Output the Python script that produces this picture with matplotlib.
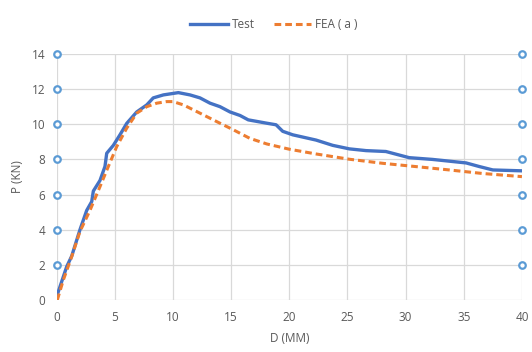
import matplotlib
matplotlib.use("Agg")
from matplotlib import pyplot as plt

plt.rcParams['font.family'] = ['Open Sans', 'DejaVu Sans']

test_d = [0.05, 0.86, 1.29, 2.0, 2.58, 3.01, 3.15, 3.72, 4.15, 4.3, 4.87, 5.44, 6.02,
          6.88, 7.74, 8.3, 9.17, 10.46, 11.46, 12.32, 13.18, 14.04, 14.9, 15.76, 16.47,
          18.06, 18.86, 19.43, 20.29, 22.3, 23.73, 25.16, 26.6, 28.3, 30.3, 32.3, 35.2,
          36.3, 37.5, 40.0]
test_p = [0.3, 1.9, 2.5, 4.0, 5.1, 5.6, 6.2, 6.8, 7.6, 8.35, 8.8, 9.4, 10.05,
          10.7, 11.1, 11.5, 11.67, 11.8, 11.67, 11.5, 11.2, 11.0, 10.7, 10.5, 10.25,
          10.06, 9.97, 9.6, 9.4, 9.1, 8.8, 8.6, 8.5, 8.45, 8.1, 8.0, 7.8,
          7.6, 7.4, 7.35]

fea_d = [0.05, 0.57, 1.29, 2.0, 2.86, 3.72, 4.44, 5.16, 6.02, 6.88, 7.74, 8.6, 9.46,
         10.0, 10.9, 12.32, 13.76, 15.2, 16.6, 18.06, 20.0, 22.3, 25.16, 28.0, 30.9,
         33.76, 36.6, 40.0]
fea_p = [0.0, 1.14, 2.47, 3.9, 5.1, 6.45, 7.6, 8.73, 9.78, 10.63, 11.0, 11.2, 11.29,
         11.29, 11.1, 10.63, 10.15, 9.68, 9.2, 8.88, 8.58, 8.31, 8.01, 7.78, 7.59,
         7.4, 7.2, 7.02]

x_ticks = [0, 5, 10, 15, 20, 25, 30, 35, 40]
y_ticks = [0, 2, 4, 6, 8, 10, 12, 14]
handle_y = [2, 4, 6, 8, 10, 12, 14]

grey = '#595959'

fig = plt.figure(figsize=(5.32, 3.52), dpi=100)
ax = fig.add_axes([0.1066, 0.1477, 0.8745, 0.699])

ax.plot(test_d, test_p, color='#4472C4', lw=2.4, label='Test', zorder=3)
ax.plot(fea_d, fea_p, color='#ED7D31', lw=2.2, ls=(0, (2.2, 1.3)), label='FEA ( a )', zorder=3)

# selection handles on the edges
for xe in [0, 40]:
    ax.scatter([xe] * len(handle_y), handle_y, s=22, facecolor='white',
               edgecolor='#5B9BD5', linewidth=1.6, zorder=4, clip_on=False)

ax.set_xlim(0, 40)
ax.set_ylim(0, 14)
ax.set_xticks(x_ticks)
ax.set_yticks(y_ticks)
ax.grid(True, color='#d9d9d9', lw=0.9)
ax.set_axisbelow(True)
for s in ax.spines.values():
    s.set_visible(False)
ax.tick_params(length=0, colors=grey, labelsize=8.5, pad=8)
ax.set_xlabel('D (MM)', color=grey, fontsize=8.5, labelpad=6)
ax.set_ylabel('P (KN)', color=grey, fontsize=8.5, labelpad=6)

fig.legend(loc='center', bbox_to_anchor=(0.515, 0.93), ncol=2, frameon=False,
           fontsize=8.5, labelcolor=grey, handlelength=3.2, handletextpad=0.3,
           columnspacing=1.6)

fig.savefig('out.png', dpi=100)
